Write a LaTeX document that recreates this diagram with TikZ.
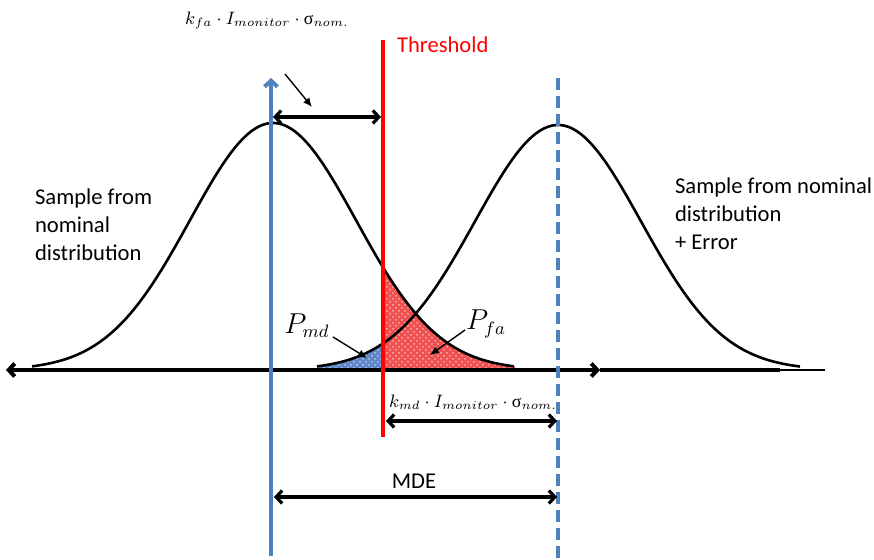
\documentclass[tikz,border=0pt]{standalone}
\usepackage{amsmath,amssymb}
\usepackage{fontspec}
\setmainfont{Carlito}
\newfontfamily\greekfont{Liberation Serif}
\usetikzlibrary{arrows,arrows.meta,positioning,calc,patterns}
\definecolor{blueline}{RGB}{79,129,189}
\definecolor{mdfill}{RGB}{95,135,200}
\definecolor{fafill}{RGB}{240,80,80}
\newcommand{\sig}{\text{\greekfont σ}}

\begin{document}
\begin{tikzpicture}[x=0.5pt, y=-0.5pt, every node/.style={font=\fontsize{11.3}{14}\selectfont},
    >={Straight Barb[length=3pt, width=6.5pt]},
    dimarrow/.style={<->, line width=1.6pt},
    pointer/.style={-{Latex[length=4.5pt, width=4pt]}, line width=0.7pt},
    mathlbl/.style={font=\fontsize{9}{11}\selectfont},
    plbl/.style={font=\fontsize{13.5}{15}\selectfont},
    curve/.style={line width=1.3pt, samples=120}]
  \useasboundingbox (0,0) rectangle (874,560);
  % shaded tails
  \fill[mdfill] (317,370) -- plot[domain=317:383, samples=40] (\x,{370-247*exp(-((\x-558)/83)^2/2)}) -- (383,370) -- cycle;
  \fill[pattern=crosshatch dots, pattern color=white!55!mdfill] (317,370) -- plot[domain=317:383, samples=40] (\x,{370-247*exp(-((\x-558)/83)^2/2)}) -- (383,370) -- cycle;
  \fill[fafill] (383,370) -- plot[domain=383:515, samples=60] (\x,{370-247*exp(-((\x-273)/83)^2/2)}) -- (515,370) -- cycle;
  \fill[pattern=crosshatch dots, pattern color=white!55!fafill] (383,370) -- plot[domain=383:515, samples=60] (\x,{370-247*exp(-((\x-273)/83)^2/2)}) -- (515,370) -- cycle;
  % the two distributions
  \draw[curve, domain=32:514] plot (\x,{370-247*exp(-((\x-273)/83)^2/2)});
  \draw[curve, domain=317:800] plot (\x,{370-245*exp(-((\x-558)/83)^2/2)});
  % axis
  \coordinate (axl) at (6,370);
  \coordinate (axr) at (600,370);
  \coordinate (axm) at (780,370);
  \coordinate (axe) at (825,370);
  \draw[<->, line width=2pt] (axl) -- (axr);
  \draw[line width=1.8pt] (axr) -- (axm);
  \draw[line width=1.1pt] (axm) -- (axe);
  % vertical lines
  \coordinate (nomb) at (271,556);
  \coordinate (nomt) at (271,78);
  \coordinate (errb) at (558,560);
  \coordinate (errt) at (558,78);
  \coordinate (thrb) at (383,437);
  \coordinate (thrt) at (383,40);
  \draw[->, blueline, line width=2pt] (nomb) -- (nomt);
  \draw[blueline, line width=1.8pt, dash pattern=on 6pt off 3pt] (errt) -- (errb);
  \draw[red, line width=2.3pt] (thrb) -- (thrt);
  \node[red, anchor=west] (thr) at (390,45) {Threshold};
  % texts
  \node[anchor=west, align=left] (nom) at (28,225) {Sample from\\nominal\\distribution};
  \node[anchor=west, align=left] (err) at (668,214) {Sample from nominal\\distribution\\+ Error};
  % dimensions
  \coordinate (fal) at (273,117);
  \coordinate (far) at (381,117);
  \draw[dimarrow] (fal) -- (far);
  \node[mathlbl] (kfa) at (267,20) {$k_{fa}\cdot I_{monitor}\cdot \sig_{nom.}$};
  \coordinate (kfafrom) at (285,74);
  \coordinate (kfato) at (312,107);
  \draw[pointer] (kfafrom) -- (kfato);
  \coordinate (mdl) at (386,421);
  \coordinate (mdr) at (557,421);
  \draw[dimarrow] (mdl) -- (mdr);
  \node[mathlbl] (kmd) at (473,402) {$k_{md}\cdot I_{monitor}\cdot \sig_{nom.}$};
  \coordinate (mdel) at (274,497);
  \coordinate (mder) at (557,497);
  \draw[dimarrow] (mdel) -- (mder);
  \node (mde) at (414,481) {MDE};
  % tail labels
  \node[plbl] (pmd) at (307,326) {$P_{md}$};
  \node[plbl] (pfa) at (486,324) {$P_{fa}$};
  \coordinate (pmdfrom) at (333,337);
  \coordinate (pmdto) at (367,358);
  \coordinate (pfafrom) at (465,330);
  \coordinate (pfato) at (430,355);
  \draw[pointer] (pmdfrom) -- (pmdto);
  \draw[pointer] (pfafrom) -- (pfato);
\end{tikzpicture}
\end{document}
